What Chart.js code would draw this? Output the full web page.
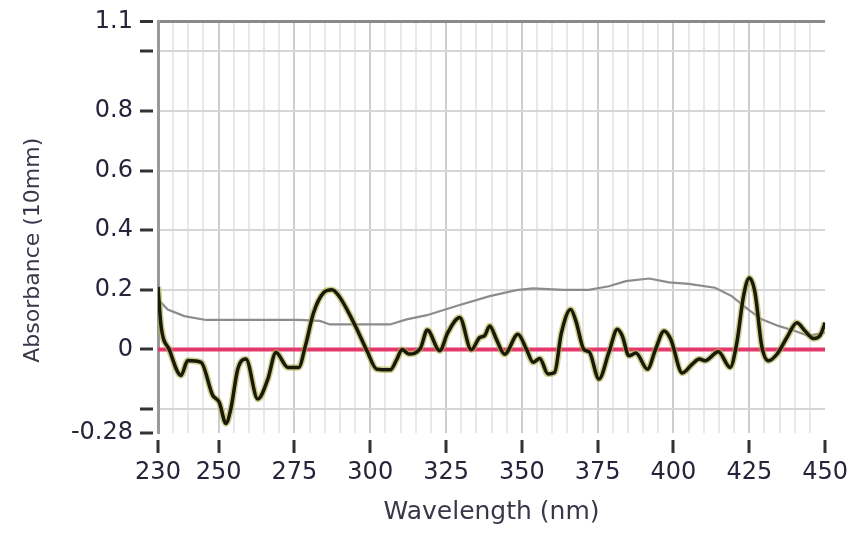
<!DOCTYPE html>
<html>
<head>
<meta charset="utf-8">
<title>Absorbance spectrum</title>
<script src="https://cdn.jsdelivr.net/npm/chart.js@4.4.1/dist/chart.umd.min.js"></script>
<style>
  html, body { margin: 0; padding: 0; background: #ffffff; }
  #wrap { width: 853px; height: 533px; }
</style>
</head>
<body>
<div id="wrap"><canvas id="spectrum" width="853" height="533"></canvas></div>
<script>
// Sample spectrum (dark trace)
const wavelengths = [230, 231, 233.7, 237.6, 239.8, 244.2, 248, 250.2, 252.4, 254, 256.3, 259, 262.9, 266.2, 268.9, 272.8,
  276.4, 278.6, 281.3, 284.6, 287.4, 289.6, 292.9, 295.6, 298.9, 302.2, 306.6, 308.8, 310.5, 312.7, 316.5, 318.8,
  322.9, 325.6, 329.5, 333.3, 336.1, 337.7, 339.4, 341.6, 344.3, 348.7, 351.5, 353.7, 355.9, 358.6, 360.8, 363,
  366.1, 367.8, 370.5, 372.2, 375.4, 378.7, 381.5, 383.1, 385.3, 387.6, 391.4, 394.1, 396.9, 399.1, 402.9, 406.2,
  408.5, 410.4, 414.8, 418.7, 420.9, 423.1, 425, 426.9, 429.1, 431.3, 434.1, 437.4, 440.7, 443.4, 446.2, 448.4, 450];
const absorbance = [0.21, 0.08, 0.0, -0.087, -0.037, -0.043, -0.153, -0.177, -0.248, -0.2, -0.066, -0.032, -0.166, -0.1, -0.01, -0.06,
  -0.06, 0.012, 0.123, 0.19, 0.2, 0.18, 0.123, 0.068, -0.004, -0.066, -0.068, -0.032, 0.0, -0.015, 0.003, 0.065,
  -0.004, 0.057, 0.107, -0.001, 0.04, 0.046, 0.079, 0.034, -0.016, 0.051, 0.001, -0.043, -0.03, -0.082, -0.077, 0.054,
  0.134, 0.096, -0.001, -0.008, -0.099, -0.01, 0.068, 0.046, -0.021, -0.012, -0.066, 0.001, 0.062, 0.034, -0.079, -0.049,
  -0.032, -0.038, -0.008, -0.06, 0.023, 0.179, 0.24, 0.19, 0.012, -0.038, -0.016, 0.04, 0.09, 0.062, 0.037, 0.048, 0.09];

// Reference spectrum (grey trace)
const refWavelengths = [230, 233.2, 238.7, 245.8, 276.5, 283.4, 286.7, 306.5, 312, 318.7, 328.4, 339.4, 348.2, 353.7,
  363.6, 372, 378.7, 384.3, 392, 398.5, 405, 413.7, 419.2, 424.7, 429.1, 434.6, 440.1, 444.4, 450];
const refAbsorbance = [0.168, 0.134, 0.112, 0.099, 0.099, 0.096, 0.084, 0.084, 0.101, 0.115, 0.146, 0.179, 0.199, 0.205,
  0.2, 0.2, 0.212, 0.229, 0.238, 0.225, 0.22, 0.207, 0.179, 0.134, 0.101, 0.079, 0.062, 0.046, 0.057];

// Zero baseline
const baselineWavelengths = [230, 450];
const baselineValues = [0, 0];

// Axis ticks
const xRange = [230, 450];
const xGridStep = 5;
const xLabeledTicks = [230, 250, 275, 300, 325, 350, 375, 400, 425, 450];
const yTickValues = [-0.28, -0.2, 0, 0.2, 0.4, 0.6, 0.8, 1.0, 1.1];
const yTickLabels = ['-0.28', '', '0', '0.2', '0.4', '0.6', '0.8', '', '1.1'];

const FONT = 'DejaVu Sans';
const TEXT = '#24243a';
const TITLE = '#38384a';

const pairs = (xs, ys) => xs.map((x, i) => ({ x: x, y: ys[i] }));

const xTickValues = [];
for (let v = xRange[0]; v <= xRange[1]; v += xGridStep) xTickValues.push(v);

// Vertical axis title, drawn beside the tick labels
const yTitle = {
  id: 'yTitle',
  afterDraw(chart) {
    const { ctx, chartArea } = chart;
    ctx.save();
    ctx.translate(33, (chartArea.top + chartArea.bottom) / 2 + 23);
    ctx.rotate(-Math.PI / 2);
    ctx.font = '22px "' + FONT + '"';
    ctx.fillStyle = TITLE;
    ctx.textAlign = 'center';
    ctx.textBaseline = 'middle';
    ctx.fillText('Absorbance (10mm)', 0, 0);
    ctx.restore();
  }
};

new Chart(document.getElementById('spectrum'), {
  type: 'line',
  data: {
    datasets: [
      {
        data: pairs(wavelengths, absorbance),
        borderColor: '#1a1a08',
        borderWidth: 3.5,
        pointRadius: 0,
        cubicInterpolationMode: 'monotone',
        order: 0
      },
      {
        data: pairs(wavelengths, absorbance),
        borderColor: 'rgba(175,175,70,0.6)',
        borderWidth: 6.5,
        pointRadius: 0,
        cubicInterpolationMode: 'monotone',
        order: 1
      },
      {
        data: pairs(refWavelengths, refAbsorbance),
        borderColor: '#8c8c8c',
        borderWidth: 2.2,
        pointRadius: 0,
        tension: 0,
        order: 2
      },
      {
        data: pairs(baselineWavelengths, baselineValues),
        borderColor: '#e4386c',
        borderWidth: 4,
        pointRadius: 0,
        order: 3
      }
    ]
  },
  options: {
    responsive: false,
    animation: false,
    devicePixelRatio: 1,
    layout: { padding: { top: 19, right: 27, left: 0, bottom: 0 } },
    plugins: { legend: { display: false }, tooltip: { enabled: false } },
    scales: {
      x: {
        type: 'linear',
        min: xRange[0],
        max: xRange[1],
        border: { display: false },
        afterBuildTicks: (s) => { s.ticks = xTickValues.map(v => ({ value: v })); },
        afterFit: (s) => { s.height = 100; },
        grid: {
          lineWidth: 2,
          color: (c) => {
            const v = c.tick ? c.tick.value : null;
            if (v === xRange[0] || v === xRange[1]) return 'rgba(0,0,0,0)';
            return v % 25 === 0 ? '#cdcdcd' : '#e8e8e8';
          },
          drawTicks: true,
          tickLength: 20,
          tickWidth: 3,
          tickColor: (c) => (c.tick && xLabeledTicks.includes(c.tick.value)) ? '#333333' : 'rgba(0,0,0,0)',
          tickBorderDash: [13, 7],
          tickBorderDashOffset: 13
        },
        ticks: {
          autoSkip: false,
          maxRotation: 0,
          padding: 5,
          color: TEXT,
          font: { family: FONT, size: 24 },
          callback: (v) => xLabeledTicks.includes(v) ? String(v) : ''
        },
        title: {
          display: true,
          text: 'Wavelength (nm)',
          color: TITLE,
          font: { family: FONT, size: 25 },
          padding: { top: 0, bottom: 6 }
        }
      },
      y: {
        type: 'linear',
        min: yTickValues[0],
        max: yTickValues[yTickValues.length - 1],
        border: { display: true, color: '#9a9a9a', width: 3 },
        afterBuildTicks: (s) => { s.ticks = yTickValues.map(v => ({ value: v })); },
        afterFit: (s) => { s.width = 158; },
        grid: {
          lineWidth: (c) => (c.tick && c.tick.value === 1.1) ? 3 : 2,
          color: (c) => {
            const v = c.tick ? c.tick.value : null;
            if (v === 1.1) return '#8a8a8a';
            if (v === -0.28) return 'rgba(0,0,0,0)';
            return '#d6d6d6';
          },
          drawTicks: true,
          tickLength: 18,
          tickWidth: 3,
          tickColor: '#333333',
          tickBorderDash: [13, 5]
        },
        ticks: {
          autoSkip: false,
          padding: 7,
          color: TEXT,
          font: { family: FONT, size: 24 },
          callback: (v, i) => yTickLabels[i]
        }
      }
    }
  },
  plugins: [yTitle]
});
</script>
</body>
</html>
